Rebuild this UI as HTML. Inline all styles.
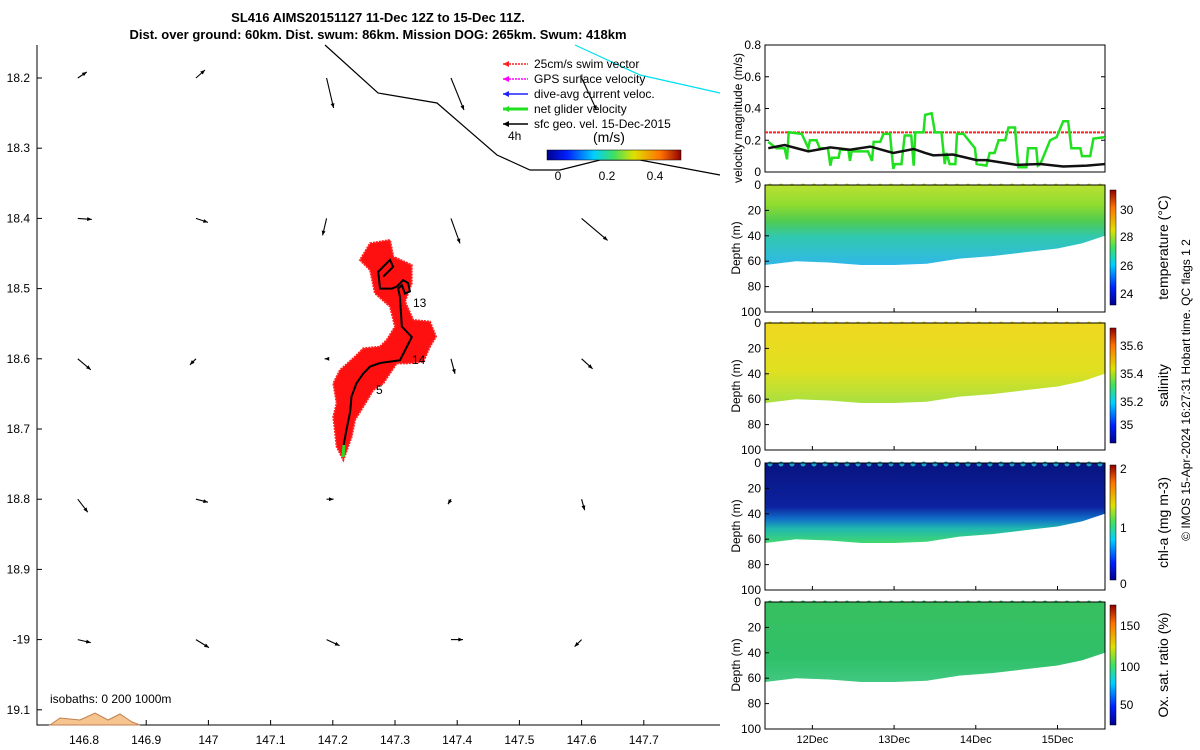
<!DOCTYPE html>
<html><head><meta charset="utf-8"><style>
body{margin:0;background:#fff}
svg{display:block;font-family:"Liberation Sans",sans-serif}
</style></head><body>
<svg id="c" width="1200" height="750" viewBox="0 0 1200 750">
<defs>
<linearGradient id="jet" x1="0" y1="0" x2="1" y2="0">
<stop offset="0" stop-color="#00008f"/><stop offset="0.15" stop-color="#0020ff"/><stop offset="0.35" stop-color="#00d0ff"/><stop offset="0.5" stop-color="#40e060"/><stop offset="0.65" stop-color="#e0e000"/><stop offset="0.85" stop-color="#ff7000"/><stop offset="1" stop-color="#900000"/></linearGradient>
<linearGradient id="jetv" x1="0" y1="1" x2="0" y2="0">
<stop offset="0" stop-color="#00008f"/><stop offset="0.15" stop-color="#0020ff"/><stop offset="0.35" stop-color="#00d0ff"/><stop offset="0.5" stop-color="#40e060"/><stop offset="0.65" stop-color="#e0e000"/><stop offset="0.85" stop-color="#ff7000"/><stop offset="1" stop-color="#900000"/></linearGradient>
<linearGradient id="gT" x1="0" y1="0" x2="0" y2="1"><stop offset="0" stop-color="#b8e030"/><stop offset="0.25" stop-color="#90dc30"/><stop offset="0.45" stop-color="#50cc50"/><stop offset="0.65" stop-color="#30c8b0"/><stop offset="1" stop-color="#30b8e8"/></linearGradient>
<linearGradient id="gS" x1="0" y1="0" x2="0" y2="1"><stop offset="0" stop-color="#f0d820"/><stop offset="0.6" stop-color="#e0e020"/><stop offset="1" stop-color="#a8e040"/></linearGradient>
<linearGradient id="gC" x1="0" y1="0" x2="0" y2="1"><stop offset="0" stop-color="#081480"/><stop offset="0.55" stop-color="#0c22a0"/><stop offset="0.7" stop-color="#1070c8"/><stop offset="0.82" stop-color="#20b8b0"/><stop offset="1" stop-color="#40d870"/></linearGradient>
<linearGradient id="gO" x1="0" y1="0" x2="0" y2="1"><stop offset="0" stop-color="#38c060"/><stop offset="0.7" stop-color="#30c068"/><stop offset="1" stop-color="#40c880"/></linearGradient>
</defs>
<g id="root"></g>
</svg>
<script>
// ---- data ----
const greenT=[11.46,11.56,11.66,11.69,11.71,11.87,11.95,11.97,12.05,12.09,12.19,12.22,12.24,12.32,12.34,12.44,12.46,12.48,12.68,12.73,12.75,12.83,12.87,12.95,12.99,13.01,13.09,13.13,13.21,13.24,13.26,13.36,13.38,13.46,13.50,13.58,13.62,13.64,13.68,13.75,13.77,13.85,13.99,14.01,14.13,14.17,14.23,14.28,14.36,14.40,14.48,14.52,14.62,14.64,14.74,14.76,14.79,14.91,14.99,15.07,15.13,15.17,15.28,15.30,15.40,15.44,15.58];
const greenV=[0.19,0.15,0.15,0.08,0.25,0.24,0.15,0.2,0.2,0.15,0.15,0.04,0.09,0.09,0.14,0.14,0.07,0.13,0.13,0.07,0.19,0.19,0.24,0.24,0.02,0.05,0.05,0.23,0.23,0.04,0.25,0.25,0.36,0.37,0.25,0.25,0.05,0.12,0.05,0.05,0.24,0.24,0.15,0.05,0.04,0.12,0.12,0.2,0.2,0.28,0.28,0.03,0.03,0.15,0.15,0.04,0.05,0.2,0.22,0.32,0.32,0.15,0.15,0.1,0.1,0.21,0.22];
const blackT=[11.46,11.66,11.95,12.22,12.46,12.71,12.99,13.24,13.38,13.48,13.72,14.01,14.13,14.50,14.79,15.07,15.36,15.58];
const blackV=[0.15,0.17,0.13,0.155,0.14,0.16,0.12,0.145,0.12,0.105,0.11,0.075,0.075,0.045,0.05,0.035,0.04,0.05];
const swimV=0.25;
const profT=[11.42,11.8,12.2,12.6,13.0,13.4,13.8,14.2,14.6,15.0,15.3,15.58];
const profD=[63,60,61,63,63,62,58,56,53,50,46,40];
const dateTicks=[12,13,14,15];
const gridLon=[146.79,146.98,147.19,147.39,147.60];
const gridLat=[18.20,18.40,18.60,18.80,19.00];
const arrowU=[[9,9,7,13,15],[14,12,-4,9,26],[13,-6,-2,4,11],[10,12,7,-3,3],[13,13,13,12,-7]];
const arrowV=[[-6,-8,30,32,32],[1,4,17,25,22],[11,6,0,15,10],[13,3,0,5,11],[3,8,6,0,7]];
const trackLon=[147.217,147.222,147.228,147.230,147.238,147.249,147.260,147.276,147.308,147.319,147.327,147.311,147.308,147.305,147.311,147.316,147.324,147.321,147.313,147.303,147.295,147.276,147.273,147.292,147.297,147.281];
const trackLat=[18.725,18.701,18.675,18.654,18.635,18.621,18.611,18.606,18.602,18.583,18.569,18.554,18.512,18.500,18.495,18.507,18.504,18.492,18.488,18.497,18.500,18.500,18.476,18.459,18.469,18.483];
// ---- helpers ----
const NS="http://www.w3.org/2000/svg",root=document.getElementById('root');
function mk(tag,at,txt,par){const e=document.createElementNS(NS,tag);for(const k in at)e.setAttribute(k,at[k]);if(txt!=null)e.textContent=txt;(par||root).appendChild(e);return e;}
const lx=v=>84+(v-146.8)*622, ly=v=>78+(v-18.2)*702;
const tx=t=>765+(t-11.42)*81.7;
// ---- title ----
let e=mk('text',{x:378,y:22,'text-anchor':'middle','font-size':13,'font-weight':'bold'},'SL416 AIMS20151127 11-Dec 12Z to 15-Dec 11Z.');

e=mk('text',{x:378,y:39,'text-anchor':'middle','font-size':13,'font-weight':'bold'},'Dist. over ground: 60km. Dist. swum: 86km. Mission DOG: 265km. Swum: 418km');

// ---- map ----
const map=mk('g',{});
mk('path',{d:'M37,45V725H720',fill:'none',stroke:'#000','stroke-width':1},null,map);
for(let i=0;i<=9;i++){const v=146.8+i*0.1,x=lx(v);mk('line',{x1:x,y1:725,x2:x,y2:720,stroke:'#000'},null,map);
 e=mk('text',{x:x,y:744,'text-anchor':'middle','font-size':12},(Math.round(v*10)/10).toString(),map);
 const lat=18.2+i*0.1,y=ly(lat);mk('line',{x1:37,y1:y,x2:42,y2:y,stroke:'#000'},null,map);
 const lab=(Math.round(lat*10)/10);
 e=mk('text',{x:30,y:y+4,'text-anchor':'end','font-size':12},lab===19?'-19':lab.toString(),map);}
// land & coast
e=mk('path',{d:'M50,725 L60,718 L80,720 L95,713 L108,720 L120,714 L132,722 L140,725Z',fill:'#f5c48f',stroke:'#c08050'},null,map);
e=mk('polyline',{points:'325,45 378,93 437,103 497,155 530,170 560,170 600,160 640,160 720,175',fill:'none',stroke:'#000','stroke-width':1.2},null,map);
e=mk('polyline',{points:'575,45 640,75 720,93',fill:'none',stroke:'#00e0f0','stroke-width':1.2},null,map);
// arrows
for(let r=0;r<gridLat.length;r++)for(let c=0;c<gridLon.length;c++){const x=lx(gridLon[c]),y=ly(gridLat[r]),x2=x+arrowU[r][c],y2=y+arrowV[r][c];
 const a=Math.atan2(y2-y,x2-x),h=5;
 const g=mk('g',{},null,map);
 mk('line',{x1:x,y1:y,x2:x2,y2:y2,stroke:'#000','stroke-width':1.1},null,g);
 mk('polygon',{points:`${x2},${y2} ${x2-h*Math.cos(a-0.4)},${y2-h*Math.sin(a-0.4)} ${x2-h*Math.cos(a+0.4)},${y2-h*Math.sin(a+0.4)}`,fill:'#000'},null,g);}
// swim vector blob
const blob=[[120,40],[180,30],[190,80],[245,105],[245,160],[225,215],[250,270],[300,275],[318,320],[300,350],[280,395],[235,400],[200,400],[160,460],[130,480],[100,530],[75,570],[65,620],[40,690],[20,650],[10,560],[20,520],[10,460],[30,420],[75,380],[100,355],[150,350],[170,330],[195,290],[180,230],[135,190],[120,120],[90,90]];
e=mk('polygon',{points:blob.map(p=>(p[0]/3+330)+','+(p[1]/3+230)).join(' '),fill:'#ff1010',stroke:'#ff2020','stroke-width':2,'stroke-dasharray':'2 1'},null,map);
e=mk('polyline',{points:trackLon.map((v,i)=>lx(v)+','+ly(trackLat[i])).join(' '),fill:'none',stroke:'#000','stroke-width':2},null,map);
mk('line',{x1:344,y1:445,x2:343,y2:457,stroke:'#20e020','stroke-width':3},null,map);
[['13',413,307],['14',412,364],['5',376,394]].forEach(d=>{e=mk('text',{x:d[1],y:d[2],'font-size':12},d[0],map);});
e=mk('text',{x:50,y:703,'font-size':12},'isobaths: 0   200  1000m',map);
// legend
const leg=[['25cm/s swim vector','#ff2020'],['GPS surface velocity','#ff00ff'],['dive-avg current veloc.','#2020ff'],['net glider velocity','#20e020'],['sfc geo. vel. 15-Dec-2015','#000']];
leg.forEach((l,i)=>{const y=64+i*15;const g=mk('g',{},null,map);
 mk('line',{x1:503,y1:y,x2:528,y2:y,stroke:l[1],'stroke-width':i==3?3:1.5,'stroke-dasharray':i<2?'2 1':''},null,g);
 mk('polygon',{points:`${503},${y} ${509},${y-3} ${509},${y+3}`,fill:l[1]},null,g);
 mk('text',{x:534,y:y+4,'font-size':12},l[0],g);});
e=mk('text',{x:508,y:140,'font-size':12},'4h',map);
e=mk('text',{x:593,y:142,'font-size':14},'(m/s)',map);
e=mk('rect',{x:547,y:150,width:134,height:10,fill:'url(#jet)',stroke:'#000','stroke-width':0.5},null,map);
[['0',558],['0.2',607],['0.4',655]].forEach(d=>{e=mk('text',{x:d[1],y:180,'text-anchor':'middle','font-size':12},d[0],map);});
// ---- velocity panel ----
const vp=mk('g',{});
const vy=v=>172-v*127/0.8;
mk('rect',{x:765,y:45,width:340,height:127,fill:'none',stroke:'#000'},null,vp);
[0,0.2,0.4,0.6,0.8].forEach(v=>{mk('line',{x1:765,y1:vy(v),x2:769,y2:vy(v),stroke:'#000'},null,vp);mk('line',{x1:1105,y1:vy(v),x2:1101,y2:vy(v),stroke:'#000'},null,vp);
 e=mk('text',{x:761,y:vy(v)+4,'text-anchor':'end','font-size':12},v==0?'0':v.toFixed(1),vp);});
e=mk('text',{transform:'translate(742,118) rotate(-90)','text-anchor':'middle','font-size':12},'velocity magnitude (m/s)',vp);
e=mk('line',{x1:765,y1:vy(swimV),x2:1105,y2:vy(swimV),stroke:'#ff2020','stroke-width':2,'stroke-dasharray':'3 1'},null,vp);
e=mk('polyline',{points:greenT.map((t,i)=>tx(t)+','+vy(greenV[i])).join(' '),fill:'none',stroke:'#20e020','stroke-width':2.5},null,vp);
e=mk('polyline',{points:blackT.map((t,i)=>tx(t)+','+vy(blackV[i])).join(' '),fill:'none',stroke:'#111','stroke-width':2.5},null,vp);
// ---- depth panels ----
const panels=[
 {top:185,grad:'url(#gT)',title:'temperature (°C)',name:'temperature',ticks:[['30',210],['28',237],['26',266],['24',294]],cb:[190,305],dot:'#b8e030'},
 {top:323,grad:'url(#gS)',title:'salinity',name:'salinity',ticks:[['35.6',346],['35.4',374],['35.2',402],['35',425]],cb:[328,443],dot:'#f0d820'},
 {top:463,grad:'url(#gC)',title:'chl-a (mg m-3)',name:'chlorophyll',ticks:[['2',469],['1',528],['0',584]],cb:[465,580],dot:'#20a0c0'},
 {top:602,grad:'url(#gO)',title:'Ox. sat. ratio (%)',name:'oxygen',ticks:[['150',626],['100',667],['50',705]],cb:[605,725],dot:'#38c060'}];
panels.forEach(p=>{const g=mk('g',{});
 const H=127,dy=d=>p.top+d*H/100;
 let pts=profT.map((t,i)=>tx(t)+','+dy(profD[i]));
 e=mk('polygon',{points:`765,${p.top} 1105,${p.top} `+pts.slice().reverse().join(' ')+` 765,${dy(profD[0])}`,fill:p.grad},null,g);
 for(let x=770;x<1105;x+=11)mk('circle',{cx:x,cy:p.top+1,r:2.5,fill:p.dot},null,g);
 mk('rect',{x:765,y:p.top,width:340,height:H,fill:'none',stroke:'#000'},null,g);
 [0,20,40,60,80,100].forEach(d=>{mk('line',{x1:765,y1:dy(d),x2:769,y2:dy(d),stroke:'#000'},null,g);
  e=mk('text',{x:761,y:dy(d)+4,'text-anchor':'end','font-size':12},d,g);});
 e=mk('text',{transform:`translate(740,${p.top+63}) rotate(-90)`,'text-anchor':'middle','font-size':12},'Depth (m)',g);
 dateTicks.forEach(d=>mk('line',{x1:tx(d),y1:p.top+H,x2:tx(d),y2:p.top+H-4,stroke:'#000'},null,g));
 e=mk('rect',{x:1110,y:p.cb[0],width:6,height:p.cb[1]-p.cb[0],fill:'url(#jetv)',stroke:'#000','stroke-width':0.5},null,g);
 p.ticks.forEach(t=>{e=mk('text',{x:1120,y:t[1]+4,'font-size':12},t[0],g);});
 e=mk('text',{transform:`translate(1168,${(p.cb[0]+p.cb[1])/2}) rotate(-90)`,'text-anchor':'middle','font-size':14},p.title,g);
});
dateTicks.forEach(d=>{e=mk('text',{x:tx(d),y:743,'text-anchor':'middle','font-size':11},d+'Dec');});
e=mk('text',{transform:'translate(1190,390) rotate(-90)','text-anchor':'middle','font-size':12},'© IMOS 15-Apr-2024 16:27:31 Hobart time. QC flags 1  2');
</script>
</body></html>
